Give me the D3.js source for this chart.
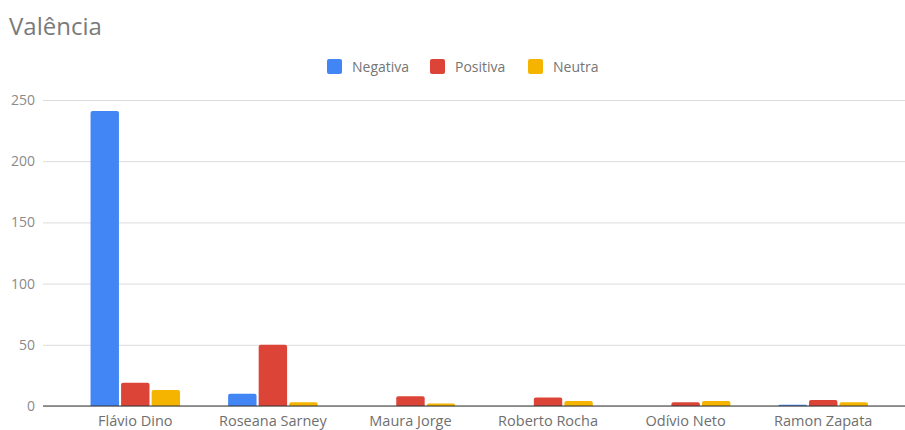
<!DOCTYPE html>
<html>
<head>
<meta charset="utf-8">
<script src="https://cdn.jsdelivr.net/npm/d3@7"></script>
<style>
  html, body { margin: 0; padding: 0; background: #fff; }
  svg { display: block; font-family: "Open Sans", "Noto Sans", sans-serif; }
</style>
</head>
<body>
<svg id="chart" width="905" height="430"></svg>
<script>
// Candidates and sentiment counts
const candidates = ["Flávio Dino", "Roseana Sarney", "Maura Jorge", "Roberto Rocha", "Odívio Neto", "Ramon Zapata"];
const seriesNames = ["Negativa", "Positiva", "Neutra"];
const negativa = [241, 10, 0, 0, 0, 1];
const positiva = [19, 50, 8, 7, 3, 5];
const neutra = [13, 3, 2, 4, 4, 3];
const yTicks = [0, 50, 100, 150, 200, 250];
const colors = ["#4285F4", "#DB4437", "#F4B400"];

const values = [negativa, positiva, neutra];
const rows = candidates.map((c, i) => ({
  name: c,
  vals: seriesNames.map((s, j) => ({ key: s, value: values[j][i], color: colors[j] }))
}));

const svg = d3.select("#chart");
const gridLeft = 43, gridRight = 905;

const y = d3.scaleLinear().domain([0, 250]).range([406, 100]);
const x0 = d3.scaleBand().domain(candidates).range([66.5, 892]).paddingInner(0).paddingOuter(0);
const groupW = 89.5;
const x1 = d3.scaleBand().domain(seriesNames).range([0, groupW]).paddingInner(0.07);

// Title
svg.append("text")
  .attr("x", 9).attr("y", 35)
  .attr("fill", "#7a7a7a")
  .style("font-size", "24px")
  .text("Valência");

// Legend
const legendItems = [
  { key: "Negativa", x: 327 },
  { key: "Positiva", x: 430 },
  { key: "Neutra", x: 528 }
];
const legend = svg.append("g");
legendItems.forEach((d, i) => {
  legend.append("rect")
    .attr("x", d.x).attr("y", 59).attr("width", 15).attr("height", 15)
    .attr("rx", 2).attr("fill", colors[i]);
  legend.append("text")
    .attr("x", d.x + 25).attr("y", 71.5)
    .attr("fill", "#757575")
    .style("font-size", "14px")
    .text(d.key);
});

// Gridlines and y-axis labels
const yAxis = d3.axisLeft(y).tickValues(yTicks).tickSize(-(gridRight - gridLeft)).tickPadding(8);
const gy = svg.append("g").attr("transform", `translate(${gridLeft},0)`).call(yAxis);
gy.select(".domain").remove();
gy.selectAll(".tick line").attr("stroke", "#dcdcdc").attr("stroke-width", 1);
gy.selectAll(".tick text")
  .attr("fill", "#8a8a8a")
  .style("font-size", "14px")
  .style("font-family", "'Open Sans', 'Noto Sans', sans-serif");

// Bars with rounded top corners
function barPath(bx, by, w, h, r) {
  if (h <= 0) return "";
  r = Math.min(r, h, w / 2);
  return `M${bx},${by + h}V${by + r}Q${bx},${by} ${bx + r},${by}H${bx + w - r}Q${bx + w},${by} ${bx + w},${by + r}V${by + h}Z`;
}

const groups = svg.append("g").selectAll("g")
  .data(rows).join("g")
  .attr("transform", d => `translate(${x0(d.name) + (x0.bandwidth() - groupW) / 2},0)`);

groups.selectAll("path")
  .data(d => d.vals).join("path")
  .attr("fill", d => d.color)
  .attr("d", d => barPath(x1(d.key), y(d.value), x1.bandwidth(), y(0) - y(d.value), 2));

// Baseline
svg.append("line")
  .attr("x1", gridLeft).attr("x2", gridRight)
  .attr("y1", y(0)).attr("y2", y(0))
  .attr("stroke", "#333").attr("stroke-width", 1.2);

// Category labels
const xAxis = d3.axisBottom(x0).tickSize(0).tickPadding(0);
const gx = svg.append("g").attr("transform", `translate(0,${y(0)})`).call(xAxis);
gx.select(".domain").remove();
gx.selectAll(".tick text")
  .attr("dy", "19.5px")
  .attr("fill", "#6f6f6f")
  .style("font-size", "14.5px")
  .style("font-family", "'Open Sans', 'Noto Sans', sans-serif");
</script>
</body>
</html>
